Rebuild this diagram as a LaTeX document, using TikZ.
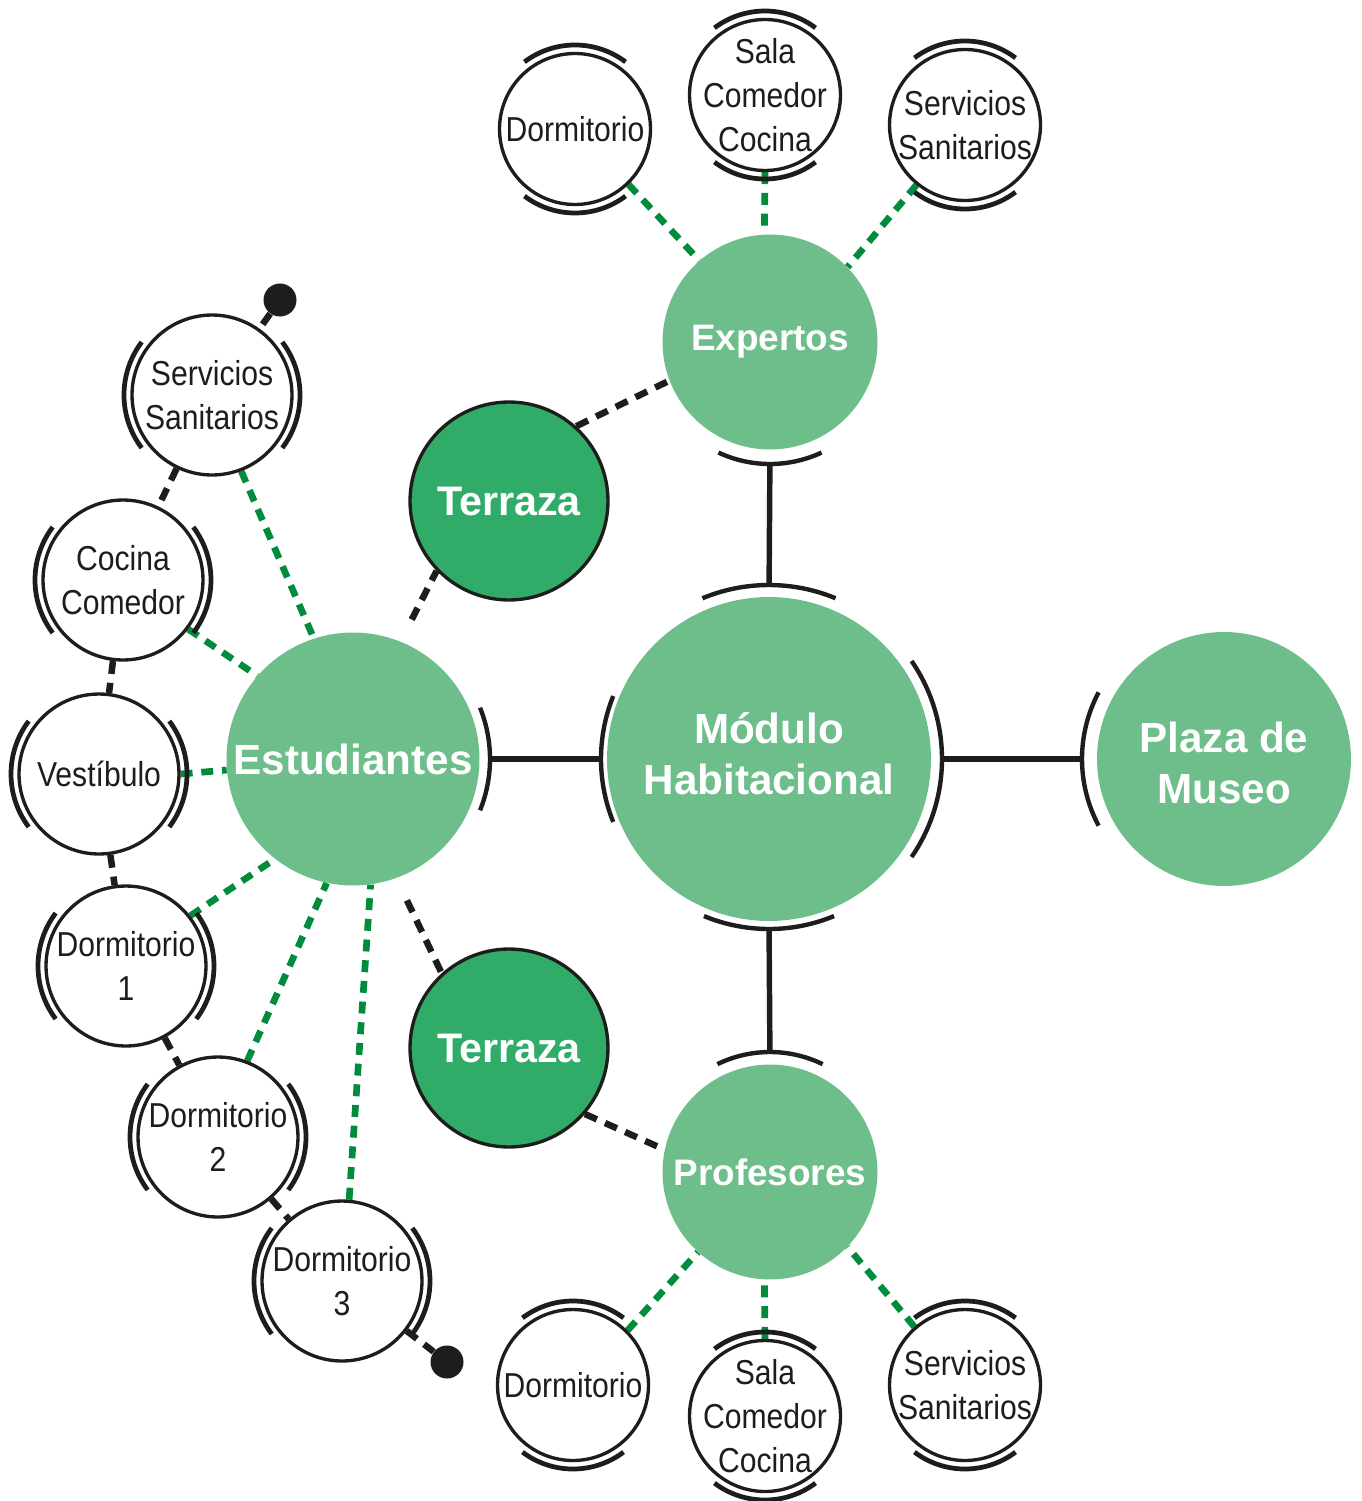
\documentclass[tikz,border=0pt]{standalone}
\usepackage{fontspec}
\setmainfont{Liberation Sans}
\newfontfamily\narrowf[FakeStretch=0.87]{Liberation Sans}
\usetikzlibrary{backgrounds}
\definecolor{lgreen}{HTML}{6EBE8C}
\definecolor{dgreen}{HTML}{31AC68}
\definecolor{dashgreen}{HTML}{008C3C}
\definecolor{ink}{HTML}{1D1D1B}
\tikzset{
 bignode/.style={circle, fill=lgreen, inner sep=0pt, text=white, align=center, font=\fontsize{24}{29}\selectfont\bfseries},
 midnode/.style={bignode, font=\fontsize{21}{25}\selectfont\bfseries},
 terr/.style={circle, fill=dgreen, draw=ink, line width=1.9pt, inner sep=0pt, minimum size=3.96cm, text=white, font=\fontsize{23.5}{28}\selectfont\bfseries},
 room/.style={circle, fill=white, draw=ink, line width=1.9pt, inner sep=-25pt, text=ink, align=center, font=\narrowf\fontsize{19.7}{25}\selectfont},
 rowroom/.style={room, minimum size=3.02cm},
 colroom/.style={room, minimum size=3.2cm},
 dotn/.style={circle, fill=ink, inner sep=0pt, minimum size=0.66cm},
 brk/.style={draw=ink, line width=2.5pt},
 dbl/.style={draw=ink, line width=2.7pt},
 solidc/.style={draw=ink, line width=3.1pt},
 gdash/.style={draw=dashgreen, line width=3.8pt, dash pattern=on 6.8pt off 5pt},
 kdash/.style={draw=ink, line width=3.7pt, dash pattern=on 7.4pt off 5.1pt},
}
% node, middle angle, half span, radius, style
\newcommand\arcat[5]{\draw[#5] (#1.center) ++({#2-#3}:#4) arc[start angle={#2-#3}, end angle={#2+#3}, radius=#4];}
\begin{document}
\begin{tikzpicture}[x=0.02cm, y=0.02cm]
\useasboundingbox (0,0) rectangle (1362,-1501);
% main nodes
\node[bignode, minimum size=6.48cm] (mod) at (769,-759) {\begin{tabular}{@{}c@{}}Módulo\\Habitacional\end{tabular}};
\node[bignode, minimum size=5.06cm] (est) at (353,-759) {Estudiantes};
\node[bignode, minimum size=5.08cm] (pl) at (1224,-759) {\raisebox{-4.8pt}[\height][\depth]{\begin{tabular}{@{}c@{}}Plaza de\\Museo\end{tabular}}};
\node[midnode, minimum size=4.3cm] (exp) at (770,-342) {Expertos};
\node[midnode, minimum size=4.3cm] (prof) at (770,-1172) {Profesores};
\node[terr] (t1) at (509,-501) {Terraza};
\node[terr] (t2) at (509,-1048) {Terraza};
% top row
\node[rowroom] (tdorm) at (575,-129) {Dormitorio};
\node[rowroom] (tsala) at (765,-95) {Sala\\Comedor\\Cocina};
\node[rowroom] (tserv) at (965,-125) {Servicios\\Sanitarios};
% bottom row
\node[rowroom] (bdorm) at (573,-1385) {Dormitorio};
\node[rowroom] (bsala) at (765,-1416) {Sala\\Comedor\\Cocina};
\node[rowroom] (bserv) at (965,-1385) {Servicios\\Sanitarios};
% left column
\node[colroom] (ss) at (212,-395) {Servicios\\Sanitarios};
\node[colroom] (cc) at (123,-580) {Cocina\\Comedor};
\node[colroom] (vest) at (99,-774) {Vestíbulo};
\node[colroom] (d1) at (126,-966) {Dormitorio\\1};
\node[colroom] (d2) at (218,-1137) {Dormitorio\\2};
\node[colroom] (d3) at (342,-1281) {Dormitorio\\3};
\node[dotn] (dot1) at (280,-300) {};
\node[dotn] (dot2) at (447,-1362) {};
% connectors
\begin{scope}[on background layer]
 \draw[gdash] (ss.-69) -- (est.108);
 \draw[gdash] (cc.-37) -- (est.139);
 \draw[gdash] (vest.0) -- (est.185);
 \draw[gdash] (d1.38) -- (est.232);
 \draw[gdash] (d2.69) -- (est.258);
 \draw[gdash] (d3.85) -- (est.278);
 \draw[gdash] (tdorm.-46) -- (exp.131);
 \draw[gdash] (tsala.-90) -- (exp.93);
 \draw[gdash] (tserv.231) -- (exp.44);
 \draw[gdash] (bdorm.45) -- (prof.228);
 \draw[gdash] (bsala.90) -- (prof.267);
 \draw[gdash] (bserv.131) -- (prof.-44);
 \draw[kdash] (dot1) -- (ss);
 \draw[kdash] (ss) -- (cc);
 \draw[kdash] (cc) -- (vest);
 \draw[kdash] (vest) -- (d1);
 \draw[kdash] (d1) -- (d2);
 \draw[kdash] (d2) -- (d3);
 \draw[kdash] (d3) -- (dot2);
 \draw[kdash, shorten <=14pt] (est.68) -- (t1.224);
 \draw[kdash] (t1.48) -- (exp.201);
 \draw[kdash, shorten <=14pt] (est.-70) -- (t2.132);
 \draw[kdash] (t2.-41) -- (prof.168);
 \draw[solidc, shorten <=6pt, shorten >=3.4pt] (est.east) -- (mod.west);
 \draw[solidc, shorten <=6.3pt, shorten >=8.5pt] (mod.east) -- (pl.west);
 \draw[solidc, shorten <=6.8pt, shorten >=8.5pt] (mod.north) -- (exp.south);
 \draw[solidc, shorten <=4.6pt, shorten >=6.8pt] (mod.south) -- (prof.north);
\end{scope}
% brackets
\arcat{mod}{90}{22.5}{174}{brk}
\arcat{mod}{270}{22.5}{170}{brk}
\arcat{mod}{180}{22}{168}{brk}
\arcat{mod}{0}{34.5}{173}{brk}
\arcat{exp}{270}{25}{122}{brk}
\arcat{prof}{90}{26}{120}{brk}
\arcat{est}{0}{22}{137}{brk}
\arcat{pl}{180}{28}{142}{brk}
% double arcs on rooms
\foreach \n in {tdorm,tsala,tserv,bdorm,bsala,bserv}{
 \arcat{\n}{90}{37}{84}{dbl}
 \arcat{\n}{270}{37}{84}{dbl}
}
\foreach \n in {ss,cc,vest,d1,d2,d3}{
 \arcat{\n}{0}{37}{88}{dbl}
 \arcat{\n}{180}{37}{88}{dbl}
}
\end{tikzpicture}
\end{document}
